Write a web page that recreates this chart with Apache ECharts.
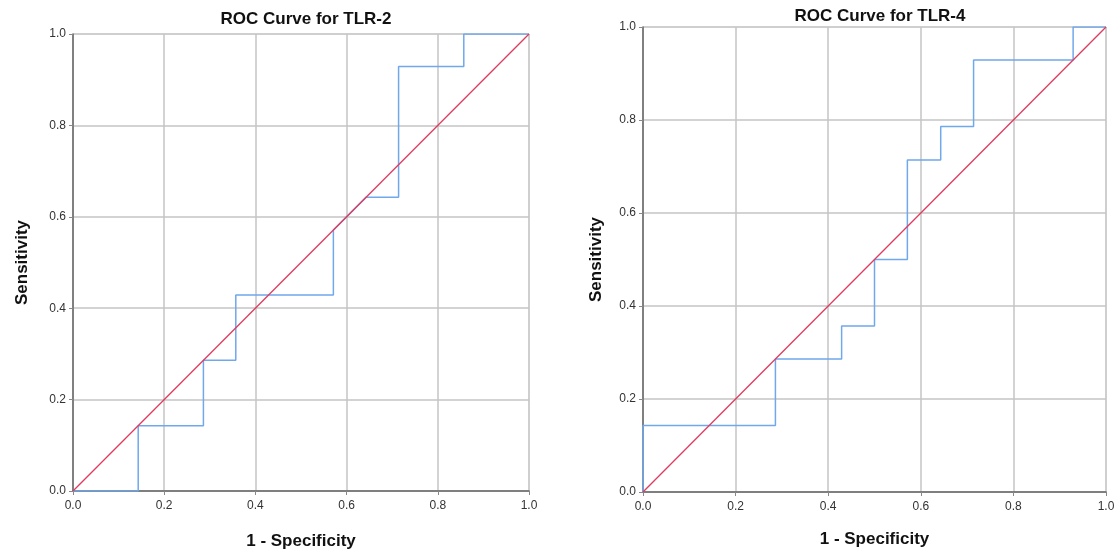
<!DOCTYPE html>
<html>
<head>
<meta charset="utf-8">
<script src="https://cdn.jsdelivr.net/npm/echarts@6/dist/echarts.min.js"></script>
<style>
  html, body { margin: 0; padding: 0; background: #fff; }
  #chart { width: 1118px; height: 552px; }
</style>
</head>
<body>
<div id="chart"></div>
<script>
// ROC points (1 - specificity, sensitivity), steps of 1/14
var tlr2X = [0, 0.143, 0.143, 0.286, 0.286, 0.357, 0.357, 0.571, 0.571, 0.643, 0.714, 0.714, 0.857, 0.857, 1];
var tlr2Y = [0, 0, 0.143, 0.143, 0.286, 0.286, 0.429, 0.429, 0.571, 0.643, 0.643, 0.929, 0.929, 1, 1];
var tlr4X = [0, 0, 0.286, 0.286, 0.429, 0.429, 0.5, 0.5, 0.571, 0.571, 0.643, 0.643, 0.714, 0.714, 0.929, 0.929, 1];
var tlr4Y = [0, 0.143, 0.143, 0.286, 0.286, 0.357, 0.357, 0.5, 0.5, 0.714, 0.714, 0.786, 0.786, 0.929, 0.929, 1, 1];
var refX = [0, 1];
var refY = [0, 1];
var titles = ['ROC Curve for TLR-2', 'ROC Curve for TLR-4'];

var FONT = '"Liberation Sans", Arial, sans-serif';

function pairs(xs, ys) {
    var out = [];
    for (var i = 0; i < xs.length; i++) out.push([xs[i], ys[i]]);
    return out;
}

function valAxis(idx, name, isY, gap) {
    return {
        type: 'value', gridIndex: idx, min: 0, max: 1, interval: 0.2,
        name: name, nameLocation: 'middle',
        nameGap: gap, nameRotate: isY ? 90 : 0,
        nameTextStyle: { fontFamily: FONT, fontSize: 17, fontWeight: 'bold', color: '#111' },
        axisLine: { show: true, onZero: false, lineStyle: { color: '#666', width: 1.5 } },
        axisTick: { show: true, length: 4, lineStyle: { color: '#888' } },
        axisLabel: {
            fontFamily: FONT, fontSize: 12, color: '#333', margin: isY ? 7 : 9,
            formatter: function (v) { return v.toFixed(1); }
        },
        splitLine: { show: true, lineStyle: { color: '#c4c4c4', width: 1.5 } }
    };
}

var grids = [
    { left: 73, top: 34, width: 456, height: 457, outerBoundsMode: 'none', containLabel: false,
      show: true, borderColor: '#dcdcdc', borderWidth: 1 },
    { left: 643, top: 27, width: 463, height: 465, outerBoundsMode: 'none', containLabel: false,
      show: true, borderColor: '#dcdcdc', borderWidth: 1 }
];

function lineSeries(idx, data, color, w) {
    return {
        type: 'line', xAxisIndex: idx, yAxisIndex: idx, data: data,
        showSymbol: false, symbol: 'none', silent: true, animation: false,
        lineStyle: { color: color, width: w }
    };
}

var option = {
    backgroundColor: '#fff',
    animation: false,
    title: [
        { text: titles[0], left: 301, top: 6, textAlign: 'center',
          textStyle: { fontFamily: FONT, fontSize: 17, fontWeight: 'bold', color: '#111' } },
        { text: titles[1], left: 875, top: 3, textAlign: 'center',
          textStyle: { fontFamily: FONT, fontSize: 17, fontWeight: 'bold', color: '#111' } }
    ],
    grid: grids,
    xAxis: [valAxis(0, '1 - Specificity', false, 42), valAxis(1, '1 - Specificity', false, 39)],
    yAxis: [valAxis(0, 'Sensitivity', true, 42), valAxis(1, 'Sensitivity', true, 38)],
    series: [
        lineSeries(0, pairs(tlr2X, tlr2Y), '#70a8ec', 1.5),
        lineSeries(0, pairs(refX, refY), '#e03a5e', 1.3),
        lineSeries(1, pairs(tlr4X, tlr4Y), '#70a8ec', 1.5),
        lineSeries(1, pairs(refX, refY), '#e03a5e', 1.3)
    ]
};

var chart = echarts.init(document.getElementById('chart'));
chart.setOption(option);
</script>
</body>
</html>
